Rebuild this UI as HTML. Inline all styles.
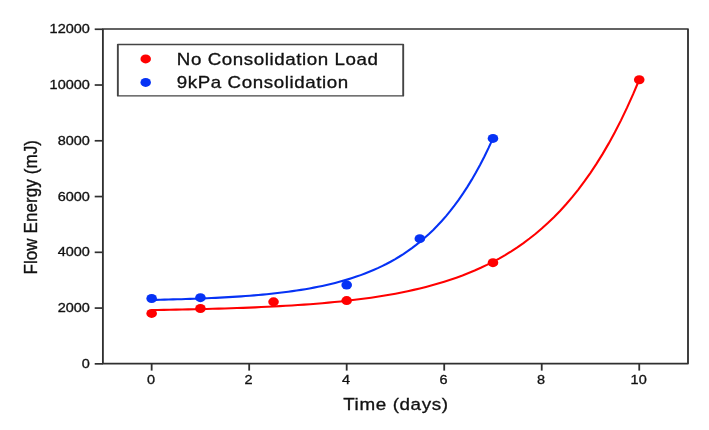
<!DOCTYPE html><html><head><meta charset="utf-8"><style>html,body{margin:0;padding:0;background:#fff}</style></head><body><svg width="709" height="430" viewBox="0 0 709 430" style="display:block;will-change:transform;font-family:'Liberation Sans',sans-serif">
<rect width="709" height="430" fill="#fff"/>
<g transform="scale(1.080,1)"><rect x="95.278" y="29.00" width="541.759" height="334.60" fill="none" stroke="#303030" stroke-width="1.7" stroke-linejoin="round"/></g>
<line x1="94.70" y1="363.85" x2="102.90" y2="363.85" stroke="#303030" stroke-width="1.7"/>
<g transform="translate(89.90,367.90) scale(1.125,1)"><text x="0" y="0" font-size="12.9" text-anchor="end" fill="#111" stroke="#111" stroke-width="0.32">0</text></g>
<line x1="94.70" y1="308.08" x2="102.90" y2="308.08" stroke="#303030" stroke-width="1.7"/>
<g transform="translate(89.90,312.13) scale(1.125,1)"><text x="0" y="0" font-size="12.9" text-anchor="end" fill="#111" stroke="#111" stroke-width="0.32">2000</text></g>
<line x1="94.70" y1="252.32" x2="102.90" y2="252.32" stroke="#303030" stroke-width="1.7"/>
<g transform="translate(89.90,256.37) scale(1.125,1)"><text x="0" y="0" font-size="12.9" text-anchor="end" fill="#111" stroke="#111" stroke-width="0.32">4000</text></g>
<line x1="94.70" y1="196.55" x2="102.90" y2="196.55" stroke="#303030" stroke-width="1.7"/>
<g transform="translate(89.90,200.60) scale(1.125,1)"><text x="0" y="0" font-size="12.9" text-anchor="end" fill="#111" stroke="#111" stroke-width="0.32">6000</text></g>
<line x1="94.70" y1="140.78" x2="102.90" y2="140.78" stroke="#303030" stroke-width="1.7"/>
<g transform="translate(89.90,144.83) scale(1.125,1)"><text x="0" y="0" font-size="12.9" text-anchor="end" fill="#111" stroke="#111" stroke-width="0.32">8000</text></g>
<line x1="94.70" y1="85.02" x2="102.90" y2="85.02" stroke="#303030" stroke-width="1.7"/>
<g transform="translate(89.90,89.07) scale(1.125,1)"><text x="0" y="0" font-size="12.9" text-anchor="end" fill="#111" stroke="#111" stroke-width="0.32">10000</text></g>
<line x1="94.70" y1="29.25" x2="102.90" y2="29.25" stroke="#303030" stroke-width="1.7"/>
<g transform="translate(89.90,33.30) scale(1.125,1)"><text x="0" y="0" font-size="12.9" text-anchor="end" fill="#111" stroke="#111" stroke-width="0.32">12000</text></g>
<line x1="151.66" y1="363.60" x2="151.66" y2="370.60" stroke="#303030" stroke-width="1.8"/>
<g transform="translate(151.06,384.30) scale(1.125,1)"><text x="0" y="0" font-size="12.9" text-anchor="middle" fill="#111" stroke="#111" stroke-width="0.32">0</text></g>
<line x1="249.18" y1="363.60" x2="249.18" y2="370.60" stroke="#303030" stroke-width="1.8"/>
<g transform="translate(248.58,384.30) scale(1.125,1)"><text x="0" y="0" font-size="12.9" text-anchor="middle" fill="#111" stroke="#111" stroke-width="0.32">2</text></g>
<line x1="346.69" y1="363.60" x2="346.69" y2="370.60" stroke="#303030" stroke-width="1.8"/>
<g transform="translate(346.09,384.30) scale(1.125,1)"><text x="0" y="0" font-size="12.9" text-anchor="middle" fill="#111" stroke="#111" stroke-width="0.32">4</text></g>
<line x1="444.21" y1="363.60" x2="444.21" y2="370.60" stroke="#303030" stroke-width="1.8"/>
<g transform="translate(443.61,384.30) scale(1.125,1)"><text x="0" y="0" font-size="12.9" text-anchor="middle" fill="#111" stroke="#111" stroke-width="0.32">6</text></g>
<line x1="541.73" y1="363.60" x2="541.73" y2="370.60" stroke="#303030" stroke-width="1.8"/>
<g transform="translate(541.12,384.30) scale(1.125,1)"><text x="0" y="0" font-size="12.9" text-anchor="middle" fill="#111" stroke="#111" stroke-width="0.32">8</text></g>
<line x1="639.24" y1="363.60" x2="639.24" y2="370.60" stroke="#303030" stroke-width="1.8"/>
<g transform="translate(638.64,384.30) scale(1.125,1)"><text x="0" y="0" font-size="12.9" text-anchor="middle" fill="#111" stroke="#111" stroke-width="0.32">10</text></g>
<path d="M151.66,310.03 L157.75,309.94 L163.85,309.84 L169.94,309.74 L176.04,309.63 L182.13,309.51 L188.23,309.39 L194.32,309.26 L200.42,309.12 L206.51,308.97 L212.61,308.81 L218.70,308.64 L224.80,308.45 L230.89,308.26 L236.99,308.05 L243.08,307.83 L249.18,307.59 L255.27,307.34 L261.36,307.07 L267.46,306.79 L273.55,306.48 L279.65,306.16 L285.74,305.81 L291.84,305.44 L297.93,305.05 L304.03,304.63 L310.12,304.18 L316.22,303.70 L322.31,303.19 L328.41,302.65 L334.50,302.07 L340.60,301.45 L346.69,300.79 L352.79,300.08 L358.88,299.33 L364.98,298.53 L371.07,297.68 L377.17,296.77 L383.26,295.80 L389.36,294.77 L395.45,293.67 L401.54,292.49 L407.64,291.24 L413.73,289.90 L419.83,288.47 L425.92,286.95 L432.02,285.33 L438.11,283.60 L444.21,281.76 L450.30,279.79 L456.40,277.69 L462.49,275.46 L468.59,273.07 L474.68,270.53 L480.78,267.82 L486.87,264.93 L492.97,261.84 L499.06,258.55 L505.16,255.05 L511.25,251.31 L517.35,247.32 L523.44,243.07 L529.54,238.53 L535.63,233.70 L541.73,228.54 L547.82,223.04 L553.91,217.18 L560.01,210.93 L566.10,204.26 L572.20,197.15 L578.29,189.56 L584.39,181.48 L590.48,172.86 L596.58,163.66 L602.67,153.86 L608.77,143.40 L614.86,132.25 L620.96,120.36 L627.05,107.68 L633.15,94.16 L639.24,79.74" fill="none" stroke="#ff0000" stroke-width="2.1"/>
<path d="M151.66,299.93 L155.92,299.84 L160.19,299.74 L164.46,299.64 L168.72,299.54 L172.99,299.42 L177.26,299.30 L181.52,299.18 L185.79,299.04 L190.06,298.90 L194.32,298.75 L198.59,298.59 L202.85,298.42 L207.12,298.24 L211.39,298.05 L215.65,297.84 L219.92,297.63 L224.19,297.40 L228.45,297.16 L232.72,296.90 L236.99,296.63 L241.25,296.34 L245.52,296.03 L249.78,295.71 L254.05,295.36 L258.32,295.00 L262.58,294.61 L266.85,294.20 L271.12,293.76 L275.38,293.30 L279.65,292.81 L283.92,292.29 L288.18,291.74 L292.45,291.15 L296.71,290.53 L300.98,289.87 L305.25,289.17 L309.51,288.43 L313.78,287.64 L318.05,286.81 L322.31,285.93 L326.58,284.99 L330.85,283.99 L335.11,282.94 L339.38,281.82 L343.64,280.63 L347.91,279.37 L352.18,278.04 L356.44,276.62 L360.71,275.12 L364.98,273.52 L369.24,271.83 L373.51,270.04 L377.78,268.14 L382.04,266.12 L386.31,263.98 L390.57,261.71 L394.84,259.30 L399.11,256.75 L403.37,254.04 L407.64,251.17 L411.91,248.13 L416.17,244.89 L420.44,241.47 L424.71,237.83 L428.97,233.98 L433.24,229.89 L437.50,225.55 L441.77,220.95 L446.04,216.07 L450.30,210.90 L454.57,205.41 L458.84,199.59 L463.10,193.41 L467.37,186.86 L471.63,179.91 L475.90,172.54 L480.17,164.73 L484.43,156.44 L488.70,147.65 L492.97,138.32" fill="none" stroke="#0632f5" stroke-width="2.1"/>
<ellipse cx="151.66" cy="313.41" rx="5.3" ry="4.5" fill="#ff0000"/>
<ellipse cx="200.42" cy="308.53" rx="5.3" ry="4.5" fill="#ff0000"/>
<ellipse cx="273.55" cy="301.84" rx="5.3" ry="4.5" fill="#ff0000"/>
<ellipse cx="346.69" cy="300.58" rx="5.3" ry="4.5" fill="#ff0000"/>
<ellipse cx="492.97" cy="262.66" rx="5.3" ry="4.5" fill="#ff0000"/>
<ellipse cx="639.24" cy="79.75" rx="5.3" ry="4.5" fill="#ff0000"/>
<ellipse cx="151.66" cy="298.49" rx="5.3" ry="4.5" fill="#0632f5"/>
<ellipse cx="200.42" cy="297.66" rx="5.3" ry="4.5" fill="#0632f5"/>
<ellipse cx="346.69" cy="284.97" rx="5.3" ry="4.5" fill="#0632f5"/>
<ellipse cx="419.83" cy="238.68" rx="5.3" ry="4.5" fill="#0632f5"/>
<ellipse cx="492.97" cy="138.44" rx="5.3" ry="4.5" fill="#0632f5"/>
<g transform="scale(1.350,1)"><rect x="87.296" y="44.5" width="211.370" height="51.4" fill="#fff" stroke="#444" stroke-width="1.4" stroke-linejoin="round"/></g>
<ellipse cx="145.7" cy="58.9" rx="5.25" ry="4.5" fill="#ff0000"/>
<ellipse cx="145.7" cy="82.4" rx="5.25" ry="4.5" fill="#0632f5"/>
<g transform="translate(176.80,65.00) scale(1.130,1)"><text x="0" y="0" font-size="16.6" fill="#111" stroke="#111" stroke-width="0.32" textLength="178.05" lengthAdjust="spacing">No Consolidation Load</text></g>
<g transform="translate(176.80,88.00) scale(1.130,1)"><text x="0" y="0" font-size="16.6" fill="#111" stroke="#111" stroke-width="0.32" textLength="151.68" lengthAdjust="spacing">9kPa Consolidation</text></g>
<g transform="translate(343.20,409.50) scale(1.120,1)"><text x="0" y="0" font-size="16.8" fill="#111" stroke="#111" stroke-width="0.32" textLength="93.57" lengthAdjust="spacing">Time (days)</text></g>
<g transform="translate(36.7,274.5) scale(1.12,1) rotate(-90)"><text x="0" y="0" font-size="17" fill="#111" stroke="#111" stroke-width="0.32" textLength="134.5" lengthAdjust="spacing">Flow Energy (mJ)</text></g>
</svg></body></html>
